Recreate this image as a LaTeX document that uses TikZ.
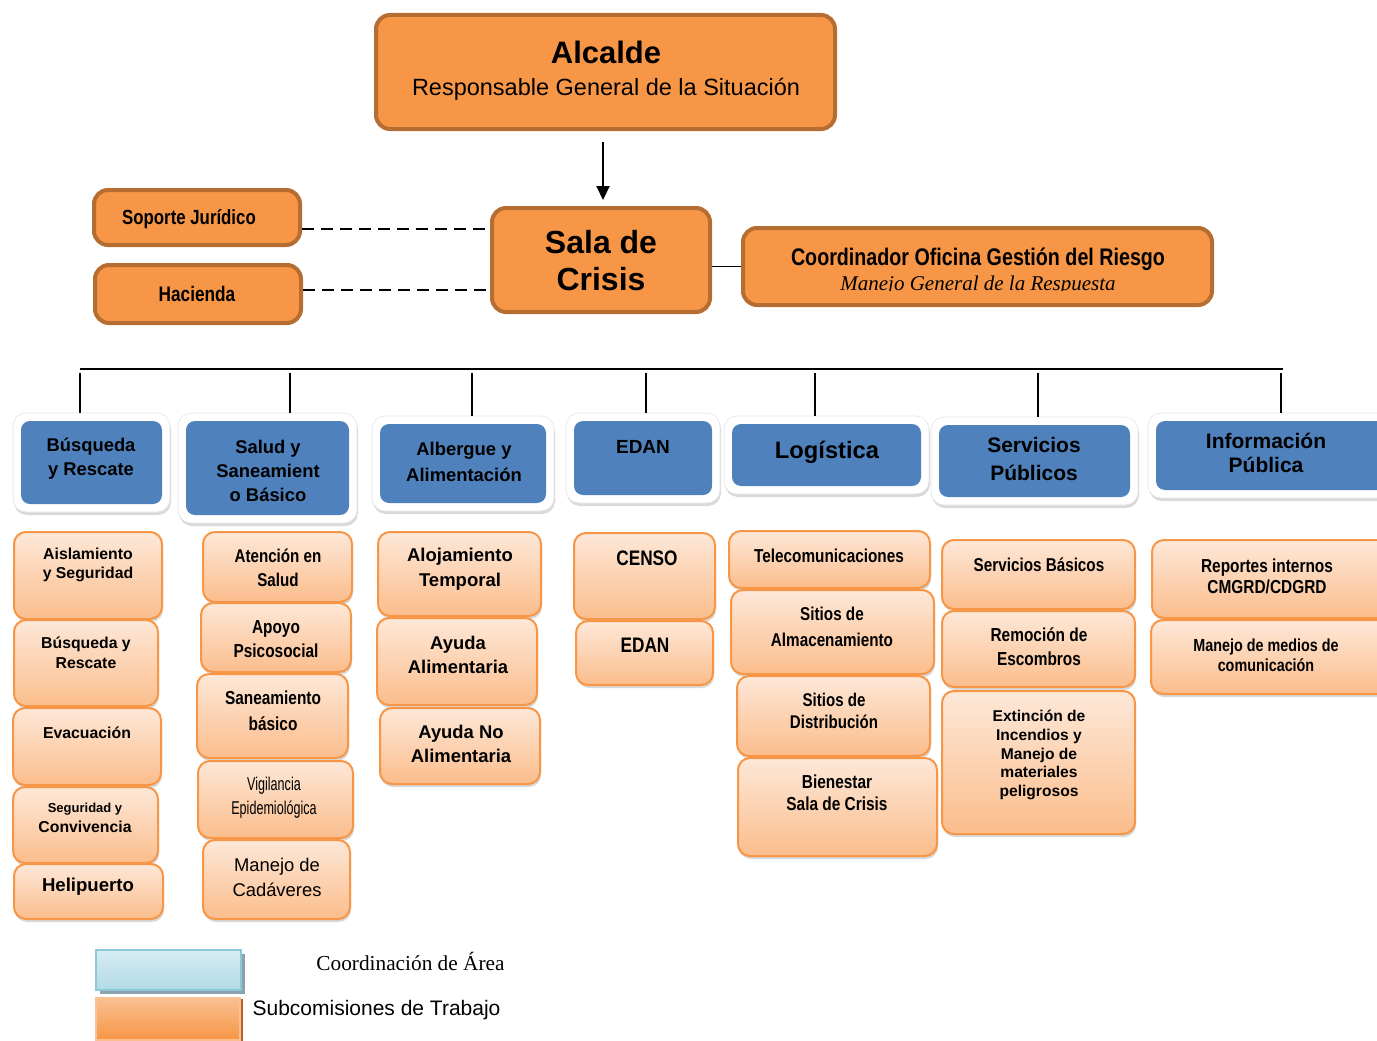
\documentclass[tikz,border=0pt]{standalone}
\usepackage{fontspec}
\setmainfont{Liberation Sans}
\newfontfamily\nar[FakeStretch=0.82]{Liberation Sans}
\newfontfamily\vnar[FakeStretch=0.68]{Liberation Sans}
\newfontfamily\tms{Liberation Serif}
\usetikzlibrary{shadows,arrows.meta}
\definecolor{orF}{RGB}{247,150,70}
\definecolor{orD}{RGB}{182,109,49}
\definecolor{orT}{RGB}{253,232,216}
\definecolor{orB}{RGB}{251,189,140}
\definecolor{blu}{RGB}{79,129,189}
\definecolor{lgT}{RGB}{214,236,243}
\definecolor{lgB}{RGB}{178,218,230}
\definecolor{lgD}{RGB}{140,200,216}
\definecolor{lgS}{RGB}{140,162,172}
\definecolor{lgO}{RGB}{250,192,145}
\definecolor{lgOS}{RGB}{185,98,38}
\newcommand\fs[2]{\fontsize{#1}{#2}\selectfont}
\newcommand\bx[6]{\node[#1, minimum width={(#5)-(#3)}, minimum height={(#6)-(#4)}] (#2) at ({((#3)+(#5))/2},{((#4)+(#6))/2}) {};}
\newcommand\bb[5]{\bx{bout}{#1}{#2}{#3}{#4}{#5}\bx{bin}{#1-i}{(#2)+8}{(#3)+8}{(#4)-8}{(#5)-8}}
\begin{document}
\begin{tikzpicture}[x=1pt,y=-1pt,
  topbox/.style={rectangle, rounded corners=14pt, fill=orF, draw=orD, line width=4pt},
  subbox/.style={rectangle, rounded corners=12pt, top color=orT, bottom color=orB, draw=orF, line width=2pt,
     drop shadow={shadow xshift=1pt, shadow yshift=-3pt, opacity=.3}},
  bout/.style={rectangle, rounded corners=13pt, fill=white, draw=black!10, line width=.6pt,
     drop shadow={shadow xshift=1pt, shadow yshift=-3pt, opacity=.3}},
  bin/.style={rectangle, rounded corners=9pt, fill=blu},
  txt/.style={align=center, inner sep=0pt},
  dline/.style={line width=1.8pt, dash pattern=on 12pt off 7pt},
  conn/.style={line width=1.5pt}]
\useasboundingbox (0,0) rectangle (1377,1041);

% ---------- top level ----------
\bx{topbox}{al}{376}{15}{835}{129}
\node[txt,font=\fs{31}{36}\bfseries] (al-t) at (606,52) {Alcalde};
\node[txt,font=\fs{23.5}{28}] (al-s) at (606,89) {Responsable General de la Situación};

\bx{topbox}{sc}{492}{208}{710}{312}
\node[txt,font=\fs{32}{37}\bfseries] (sc-t) at (601,261) {Sala de\\Crisis};

\bx{topbox}{sj}{94}{190}{300}{245}
\node[txt,font=\nar\fs{20.5}{24}\bfseries] (sj-t) at (189,219) {Soporte Jurídico};
\bx{topbox}{ha}{95}{265}{301}{323}
\node[txt,font=\nar\fs{21}{24}\bfseries] (ha-t) at (197,294) {Hacienda};

\bx{topbox}{co}{743}{228}{1212}{305}
\node[txt,font=\nar\fs{24}{28}\bfseries] (co-t) at (978,259) {Coordinador Oficina Gestión del Riesgo};
\begin{scope}
  \clip (760,270) rectangle (1190,290);
  \node[anchor=base,inner sep=0pt,font=\tms\fs{21}{24}\itshape] (co-s) at (978,290) {Manejo General de la Respuesta};
\end{scope}

\coordinate (ar) at (603,142);
\draw[line width=2pt, -{Triangle[length=14pt,width=13pt]}, shorten >=6pt] (ar) -- (ar |- sc.north);
\coordinate (d1) at ([yshift=-11.5pt]sj.east);
\draw[dline] (d1) -- (d1 -| sc.west);
\coordinate (d2) at ([yshift=4pt]ha.east);
\draw[dline] (d2) -- (d2 -| sc.west);
\draw[line width=1.5pt] (co.west) -- (co.west -| sc.east);

% ---------- coordination (blue) ----------
\bb{b1}{13}{413}{170}{512}
\node[txt,font=\fs{18.4}{24}\bfseries] (b1-t) at (91,459) {Búsqueda\\y Rescate};
\bb{b2}{178}{413}{357}{523}
\node[txt,font=\fs{18.4}{24}\bfseries] (b2-t) at (268,471) {Salud y\\Saneamient\\o Básico};
\bb{b3}{372}{416}{554}{511}
\node[txt,font=\fs{18.4}{26}\bfseries] (b3-t) at (464,462) {Albergue y\\Alimentación};
\bb{b4}{566}{413}{720}{503}
\node[txt,font=\fs{19}{24}\bfseries] (b4-t) at (643,447) {EDAN};
\bb{b5}{724}{416}{929}{494}
\node[txt,font=\fs{23.7}{28}\bfseries] (b5-t) at (827,452) {Logística};
\bb{b6}{931}{417}{1138}{505}
\node[txt,font=\fs{21}{28}\bfseries] (b6-t) at (1034,459) {Servicios\\Públicos};
\bb{b7}{1148}{413}{1398}{498}
\node[txt,font=\fs{21}{24}\bfseries] (b7-t) at (1266,453) {Información\\Pública};

\coordinate (hl) at (80,369);
\coordinate (hr) at (1283,369);
\draw[line width=2.5pt] (hl) -- (hr);
\foreach \x/\n in {80/b1,290/b2,472/b3,646/b4,815/b5,1038/b6,1281/b7}{
  \coordinate (v\n) at (\x,373);
  \draw[conn] (v\n) -- (v\n |- \n.north);
}

% ---------- subcommissions ----------
% column 1
\bx{subbox}{s11}{14}{532}{162}{619}
\node[txt,font=\fs{15.8}{19}\bfseries] (s11-t) at (88,565) {Aislamiento\\y Seguridad};
\bx{subbox}{s12}{14}{620}{158}{706}
\node[txt,font=\fs{15.8}{20}\bfseries] (s12-t) at (86,653) {Búsqueda y\\Rescate};
\bx{subbox}{s13}{13}{708}{161}{785}
\node[txt,font=\fs{15.8}{20}\bfseries] (s13-t) at (87,733) {Evacuación};
\bx{subbox}{s14}{13}{787}{158}{863}
\node[txt,font=\fs{15.8}{20}\bfseries] (s14-t) at (85,818) {{\fs{13}{16}Seguridad y}\\Convivencia};
\bx{subbox}{s15}{14}{864}{163}{919}
\node[txt,font=\fs{18.6}{22}\bfseries] (s15-t) at (88,887) {Helipuerto};
% column 2
\bx{subbox}{s21}{203}{532}{352}{602}
\node[txt,font=\nar\fs{18.5}{24}\bfseries] (s21-t) at (278,568) {Atención en\\Salud};
\bx{subbox}{s22}{201}{603}{351}{672}
\node[txt,font=\nar\fs{18.8}{24}\bfseries] (s22-t) at (276,639) {Apoyo\\Psicosocial};
\bx{subbox}{s23}{197}{674}{348}{758}
\node[txt,font=\nar\fs{18.8}{26}\bfseries] (s23-t) at (273,711) {Saneamiento\\básico};
\bx{subbox}{s24}{198}{761}{353}{838}
\node[txt,font=\vnar\fs{18.5}{24}] (s24-t) at (274,798) {Vigilancia\\Epidemiológica};
\bx{subbox}{s25}{203}{840}{350}{919}
\node[txt,font=\fs{18.4}{25}] (s25-t) at (277,877) {Manejo de\\Cadáveres};
% column 3
\bx{subbox}{s31}{378}{532}{541}{616}
\node[txt,font=\fs{18.5}{25}\bfseries] (s31-t) at (460,569) {Alojamiento\\Temporal};
\bx{subbox}{s32}{377}{618}{537}{705}
\node[txt,font=\fs{18.4}{24}\bfseries] (s32-t) at (458,655) {Ayuda\\Alimentaria};
\bx{subbox}{s33}{380}{708}{540}{784}
\node[txt,font=\fs{18.4}{24}\bfseries] (s33-t) at (461,744) {Ayuda No\\Alimentaria};
% column 4
\bx{subbox}{s41}{574}{533}{715}{619}
\node[txt,font=\nar\fs{21}{24}\bfseries] (s41-t) at (647,558) {CENSO};
\bx{subbox}{s42}{576}{621}{713}{685}
\node[txt,font=\nar\fs{21}{24}\bfseries] (s42-t) at (645,645) {EDAN};
% column 5
\bx{subbox}{s51}{729}{531}{930}{588}
\node[txt,font=\nar\fs{18.7}{22}\bfseries] (s51-t) at (829,556) {Telecomunicaciones};
\bx{subbox}{s52}{731}{590}{934}{674}
\node[txt,font=\nar\fs{18.6}{26}\bfseries] (s52-t) at (832,627) {Sitios de\\Almacenamiento};
\bx{subbox}{s53}{737}{676}{930}{756}
\node[txt,font=\nar\fs{18.4}{22}\bfseries] (s53-t) at (834,711) {Sitios de\\Distribución};
\bx{subbox}{s54}{738}{758}{937}{856}
\node[txt,font=\nar\fs{18.8}{22}\bfseries] (s54-t) at (837,793) {Bienestar\\Sala de Crisis};
% column 6
\bx{subbox}{s61}{942}{540}{1135}{609}
\node[txt,font=\nar\fs{18.6}{22}\bfseries] (s61-t) at (1039,565) {Servicios Básicos};
\bx{subbox}{s62}{942}{611}{1135}{687}
\node[txt,font=\nar\fs{18.8}{24}\bfseries] (s62-t) at (1039,647) {Remoción de\\Escombros};
\bx{subbox}{s63}{942}{691}{1135}{834}
\node[txt,font=\fs{15.6}{18.75}\bfseries] (s63-t) at (1039,755) {Extinción de\\Incendios y\\Manejo de\\materiales\\peligrosos};
% column 7
\bx{subbox}{s71}{1152}{540}{1398}{618}
\node[txt,font=\nar\fs{18.8}{21}\bfseries] (s71-t) at (1267,576) {Reportes internos\\CMGRD/CDGRD};
\bx{subbox}{s72}{1151}{620}{1398}{694}
\node[txt,font=\nar\fs{17.5}{20}\bfseries] (s72-t) at (1266,655) {Manejo de medios de\\comunicación};

% ---------- legend ----------
\bx{rectangle, top color=lgT, bottom color=lgB, draw=lgD, line width=1.5pt,
    drop shadow={shadow xshift=4pt, shadow yshift=-4pt, fill=lgS, opacity=1}}{lg1}{96}{950}{241}{990}
\node[txt,font=\tms\fs{21.3}{24}] (lg1-t) at (410.5,961) {Coordinación de Área};
\bx{rectangle, top color=lgO, bottom color=orF, draw=lgO, line width=1.5pt,
    drop shadow={shadow xshift=3pt, shadow yshift=-1pt, fill=lgOS, opacity=1}}{lg2}{96}{998}{240}{1040}
\node[txt,font=\fs{21}{24}] (lg2-t) at (376.5,1010) {Subcomisiones de Trabajo};
\end{tikzpicture}
\end{document}
